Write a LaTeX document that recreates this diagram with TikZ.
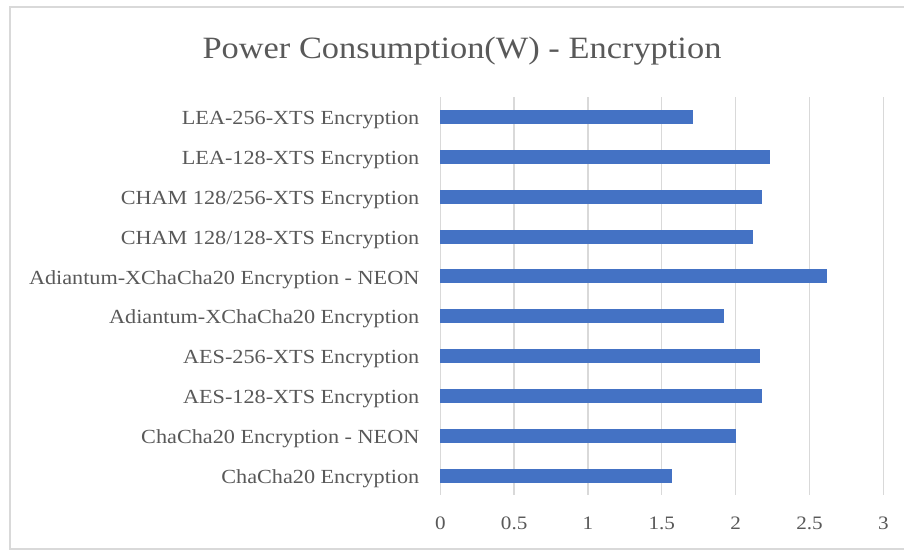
\documentclass[tikz,border=0pt]{standalone}
\usepackage{fontspec}
\setmainfont{Liberation Serif}
\newfontfamily\labfont[FakeStretch=1.11]{Liberation Serif}
\newfontfamily\titlefont[FakeStretch=1.11]{Liberation Serif}
\definecolor{barblue}{HTML}{4472C4}
\definecolor{gridgray}{HTML}{D9D9D9}
\definecolor{txtgray}{HTML}{595959}
\begin{document}
\begin{tikzpicture}[x=1pt,y=-1pt,
  catlabel/.style={anchor=base east, font=\labfont\fontsize{20}{24}\selectfont, text=txtgray, inner sep=0pt},
  ticklabel/.style={anchor=base, font=\labfont\fontsize{19}{23}\selectfont, text=txtgray, inner sep=0pt},
  gridline/.style={draw=gridgray, line width=1.3pt},
  barstyle/.style={fill=barblue, draw=none, inner sep=0pt, outer sep=0pt, minimum height=14pt, anchor=west},
  frameline/.style={draw=gridgray, line width=2pt},
  titlestyle/.style={anchor=base, font=\titlefont\fontsize{31}{36}\selectfont, text=txtgray, inner sep=0pt}]
\useasboundingbox (0,0) rectangle (904,550);
\fill[white] (0,0) rectangle (904,550);
\draw[frameline] (905,7) -- (10,7) -- (10,549) -- (905,549);
\node[titlestyle] (title) at (462,58.3) {Power Consumption(W) - Encryption};
\foreach \i/\t in {0/0,1/0.5,2/1,3/1.5,4/2,5/2.5,6/3} {
  \draw[gridline] ({440.3+\i*73.83},97) -- ({440.3+\i*73.83},495);
  \node[ticklabel] (tick\i) at ({440.3+\i*73.83},529.3) {\t};
}
\foreach \i/\v/\l in {
  0/1.713/{LEA-256-XTS Encryption},
  1/2.23/{LEA-128-XTS Encryption},
  2/2.18/{CHAM 128/256-XTS Encryption},
  3/2.118/{CHAM 128/128-XTS Encryption},
  4/2.62/{Adiantum-XChaCha20 Encryption - NEON},
  5/1.923/{Adiantum-XChaCha20 Encryption},
  6/2.167/{AES-256-XTS Encryption},
  7/2.18/{AES-128-XTS Encryption},
  8/2.005/{ChaCha20 Encryption - NEON},
  9/1.567/{ChaCha20 Encryption}} {
  \node[barstyle, minimum width={\v*147.67pt}] (bar\i) at (440.3,{117+\i*39.85}) {};
  \node[catlabel] (lab\i) at (419.5,{124.7+\i*39.85}) {\l};
}
\end{tikzpicture}
\end{document}
